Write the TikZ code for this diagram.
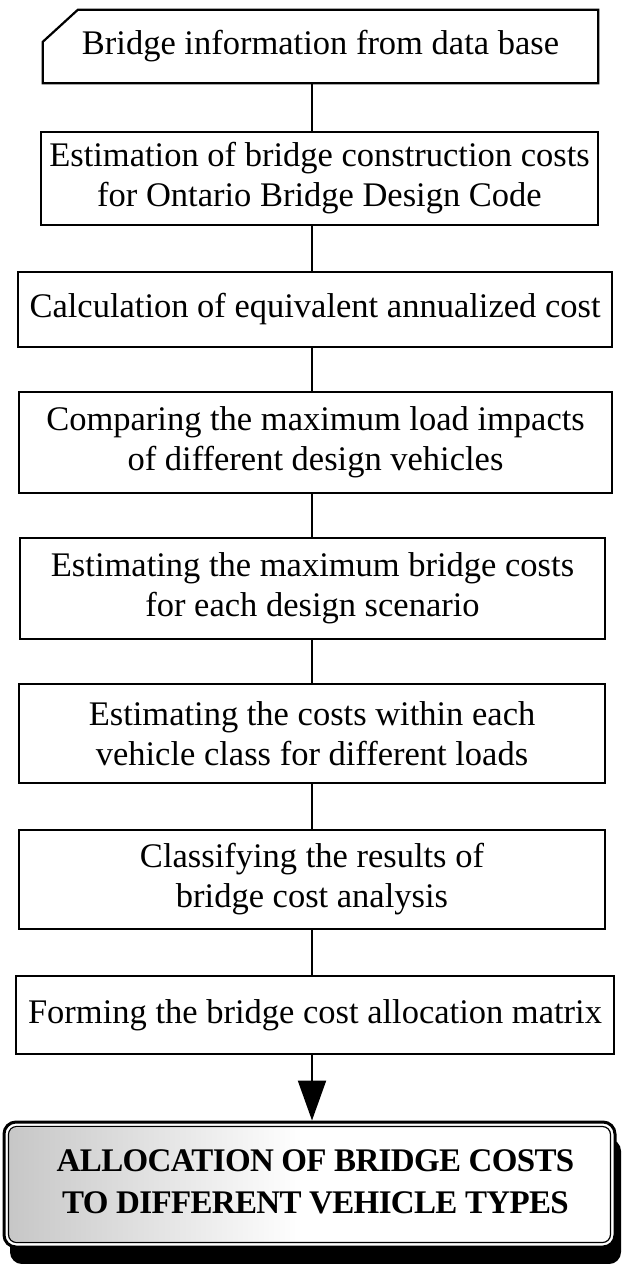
\documentclass[tikz,border=0pt]{standalone}
\usepackage{fontspec}
\setmainfont{Liberation Serif}
\usetikzlibrary{arrows.meta,calc}
\begin{document}
\begin{tikzpicture}[x=1pt,y=1pt,
  txt/.style={font=\fontsize{34.5}{40}\selectfont, align=center, inner sep=0pt},
  stepbox/.style={txt, draw, line width=2.2pt},
  link/.style={line width=2.2pt},
  finalbox/.style={draw, line width=3pt, rounded corners=12pt, fill=white, inner sep=0pt}]
\useasboundingbox (0,0) rectangle (623,-1264);
\coordinate (cx) at (312,0);

% box 1 (card shape)
\node[txt, minimum width=555pt, minimum height=73pt] (b1) at (320.5,-46.5) {Bridge information from data base};
\draw[link] ($(b1.north west)+(35,0)$) -- (b1.north east) -- (b1.south east) -- (b1.south west) -- ($(b1.north west)+(0,-32)$) -- cycle;

\node[stepbox, minimum width=557pt, minimum height=93pt] (b2) at (319.5,-178.5)
  {Estimation of bridge construction costs\\for Ontario Bridge Design Code};
\node[stepbox, minimum width=594pt, minimum height=75pt] (b3) at (315,-309.5)
  {Calculation of equivalent annualized cost};
\node[stepbox, minimum width=593pt, minimum height=101pt] (b4) at (315.5,-442.5)
  {Comparing the maximum load impacts\\of different design vehicles};
\node[stepbox, minimum width=585pt, minimum height=101pt] (b5) at (312.5,-588.5)
  {Estimating the maximum bridge costs\\for each design scenario};
\node[stepbox, minimum width=586pt, minimum height=99pt] (b6) at (312,-733.5)
  {Estimating the costs within each\\vehicle class for different loads};
\node[stepbox, minimum width=586pt, minimum height=99pt] (b7) at (312,-879.5)
  {Classifying the results of\\bridge cost analysis};
\node[stepbox, minimum width=598pt, minimum height=78pt] (b8) at (315,-1015)
  {Forming the bridge cost allocation matrix};

% final box with shadow
\fill[black, rounded corners=12pt] (10,-1139) rectangle (621,-1264);
\node[finalbox, minimum width=611pt, minimum height=125pt] (fin) at (309.5,-1184.5) {};
\shade[left color=black!22, right color=white, rounded corners=7pt]
  ($(fin.north west)+(7,-7)$) rectangle ($(fin.south west)+(300,7)$);
\draw[line width=1.2pt, rounded corners=8pt] ($(fin.north west)+(6,-6)$) rectangle ($(fin.south east)+(-6,6)$);
\node[font=\fontsize{33}{42}\selectfont\bfseries\addfontfeatures{LetterSpace=-2}, align=center, inner sep=0pt] (fintxt) at ($(fin.center)+(6,3)$)
  {ALLOCATION OF BRIDGE COSTS\\TO DIFFERENT VEHICLE TYPES};

% connectors
\draw[link] (b1.south -| cx) -- (b2.north -| cx);
\draw[link] (b2.south -| cx) -- (b3.north -| cx);
\draw[link] (b3.south -| cx) -- (b4.north -| cx);
\draw[link] (b4.south -| cx) -- (b5.north -| cx);
\draw[link] (b5.south -| cx) -- (b6.north -| cx);
\draw[link] (b6.south -| cx) -- (b7.north -| cx);
\draw[link] (b7.south -| cx) -- (b8.north -| cx);
\draw[link, -{Triangle[length=40pt,width=28pt]}] (b8.south -| cx) -- (fin.north -| cx);
\end{tikzpicture}
\end{document}
